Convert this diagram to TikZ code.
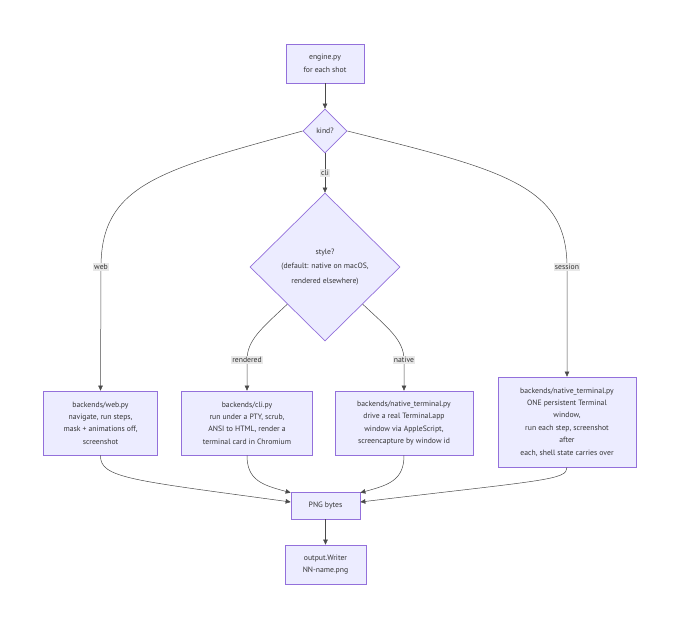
\documentclass[tikz,border=0pt]{standalone}
\usepackage{fontspec}
\setmainfont{PT Sans}
\usepackage{xcolor}
\usepackage{tikz}
\usetikzlibrary{shapes.geometric,arrows.meta}
\definecolor{boxfill}{HTML}{ECECFF}
\definecolor{boxline}{HTML}{9370DB}
\definecolor{edgegray}{HTML}{4A4A4A}
\definecolor{labelbg}{HTML}{E8E8E8}
\definecolor{textgray}{HTML}{333333}

\tikzset{
  box/.style={draw=boxline, fill=boxfill, line width=0.7pt, align=center,
    text=textgray, inner sep=0pt, font=\fontsize{7.7}{12.4}\selectfont},
  decision/.style={box, diamond, aspect=1},
  lbl/.style={fill=labelbg, text=textgray, inner sep=1.2pt,
    font=\fontsize{7.7}{9}\selectfont},
  flow/.style={draw=edgegray, line width=0.5pt, -{Triangle[length=5pt,width=4.5pt]}}
}

\begin{document}
\begin{tikzpicture}[x=1pt,y=-1pt]
  \fill[white] (0,0) rectangle (680,630);
  \useasboundingbox (0,0) rectangle (680,630);

  \node[box, minimum width=78, minimum height=39] (engine) at (325,63.5) {engine.py\\for each shot};
  \node[decision, minimum width=44, minimum height=44] (kind) at (325,131) {kind?};
  \node[decision, minimum width=150, minimum height=148, font=\fontsize{7.7}{14.5}\selectfont]
    (styleq) at (325,267) {style?\\(default: native on macOS,\\rendered elsewhere)};

  \node[box, minimum width=114, minimum height=64] (web) at (100.5,423)
    {backends/web.py\\navigate, run steps,\\mask + animations off,\\screenshot};
  \node[box, minimum width=131, minimum height=64] (cli) at (247,423)
    {backends/cli.py\\run under a PTY, scrub,\\ANSI to HTML, render a\\terminal card in Chromium};
  \node[box, minimum width=138, minimum height=64] (native) at (404,423)
    {backends/native\_terminal.py\\drive a real Terminal.app\\window via AppleScript,\\screencapture by window id};
  \node[box, minimum width=138, minimum height=90] (session) at (567,422)
    {backends/native\_terminal.py\\ONE persistent Terminal\\window,\\run each step, screenshot\\after\\each, shell state carries over};

  \node[box, minimum width=69, minimum height=27] (png) at (325.5,505.5) {PNG bytes};
  \node[box, minimum width=81, minimum height=39] (out) at (325.5,564.5) {output.Writer\\NN-name.png};

  \draw[flow] (engine) -- (kind);
  \draw[flow] (kind) -- node[lbl] {cli} (styleq);
  \draw[flow] (kind.west) .. controls (160,170) and (101,185) .. (101,267) node[lbl] {web} -- (web.north);
  \draw[flow] (kind.east) .. controls (503,170) and (567,185) .. (567,267) node[lbl] {session} -- (session.north);
  \draw[flow] (styleq.south west) .. controls (262,328) and (247,340) .. (247,360) node[lbl] {rendered} -- (cli.north);
  \draw[flow] (styleq.south east) .. controls (388,328) and (404,340) .. (404,360) node[lbl] {native} -- (native.north);

  \draw[flow] (web.south) .. controls (100,478) and (130,480) .. ([yshift=3.5pt]png.west);
  \draw[flow] (cli.south) .. controls (247,480) and (262,485) .. ([yshift=-1pt]png.north west);
  \draw[flow] (native.south) .. controls (404,480) and (389,485) .. ([yshift=-1pt]png.north east);
  \draw[flow] (session.south) .. controls (567,480) and (545,480) .. ([yshift=3.5pt]png.east);
  \draw[flow] (png) -- (out);
\end{tikzpicture}
\end{document}
